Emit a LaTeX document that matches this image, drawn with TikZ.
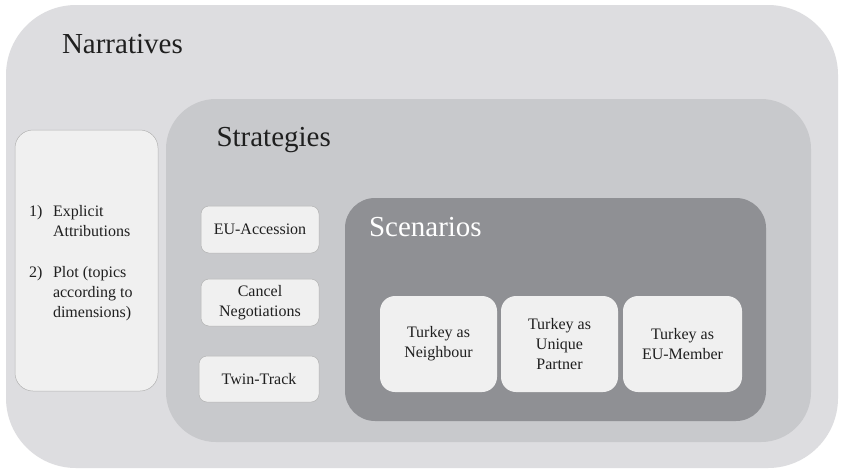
\documentclass[tikz,border=0pt]{standalone}
\usepackage{fontspec}
\setmainfont{Liberation Serif}
\begin{document}
\begin{tikzpicture}[x=1pt,y=-1pt,
  every node/.style={inner sep=0pt, outer sep=0pt},
  title/.style={anchor=base west, font=\fontsize{29}{34}\selectfont, text=black!88},
  body/.style={font=\fontsize{16}{20}\selectfont, text=black!88},
  card/.style={body, draw=black!30, line width=0.5pt, fill=cardgray, rounded corners=8pt, align=center},
  scard/.style={card, draw=none, rounded corners=15pt}]
\definecolor{outergray}{HTML}{DDDDE0}
\definecolor{midgray}{HTML}{C8C9CC}
\definecolor{darkgray2}{HTML}{8F9094}
\definecolor{cardgray}{HTML}{F0F0F0}
\useasboundingbox (0,0) rectangle (842,469);
\fill[white] (0,0) rectangle (842,469);
% layers
\fill[outergray, rounded corners=70pt] (6,5) rectangle (838,468);
\fill[midgray, rounded corners=50pt] (166,99) rectangle (811,442);
\fill[darkgray2, rounded corners=30pt] (345,198) rectangle (766,421);
% titles
\node[title] (narr) at (62,53.3) {Narratives};
\node[title] (strat) at (216.5,146.7) {Strategies};
\node[title, text=white] (scen) at (369,236.7) {Scenarios};
% narrative list
\node[card, rounded corners=18pt, minimum width=143pt, minimum height=261pt] (list) at (86.5,260.5) {};
\node[body, anchor=base west] (l1) at (29,216.7) {1)};
\node[body, anchor=base west] (t1a) at (53,216.7) {Explicit};
\node[body, anchor=base west] (t1b) at (53,236.7) {Attributions};
\node[body, anchor=base west] (l2) at (29,277) {2)};
\node[body, anchor=base west] (t2a) at (53,277) {Plot (topics};
\node[body, anchor=base west] (t2b) at (53,297) {according to};
\node[body, anchor=base west] (t2c) at (53,317) {dimensions)};
% strategies
\node[card, minimum width=118pt, minimum height=47pt] (eu) at (260,229.5) {EU-Accession};
\node[card, minimum width=118pt, minimum height=47pt] (cancel) at (260,302.5) {Cancel\\Negotiations};
\node[card, minimum width=120pt, minimum height=46pt] (twin) at (259,379) {Twin-Track};
% scenarios
\node[scard, minimum width=117pt, minimum height=96pt] (neigh) at (438.5,344) {Turkey as\\Neighbour};
\node[scard, minimum width=117pt, minimum height=96pt] (uniq) at (559.5,344) {Turkey as\\Unique\\Partner};
\node[scard, minimum width=119pt, minimum height=96pt] (member) at (682.5,344) {Turkey as\\EU-Member};
\end{tikzpicture}
\end{document}
